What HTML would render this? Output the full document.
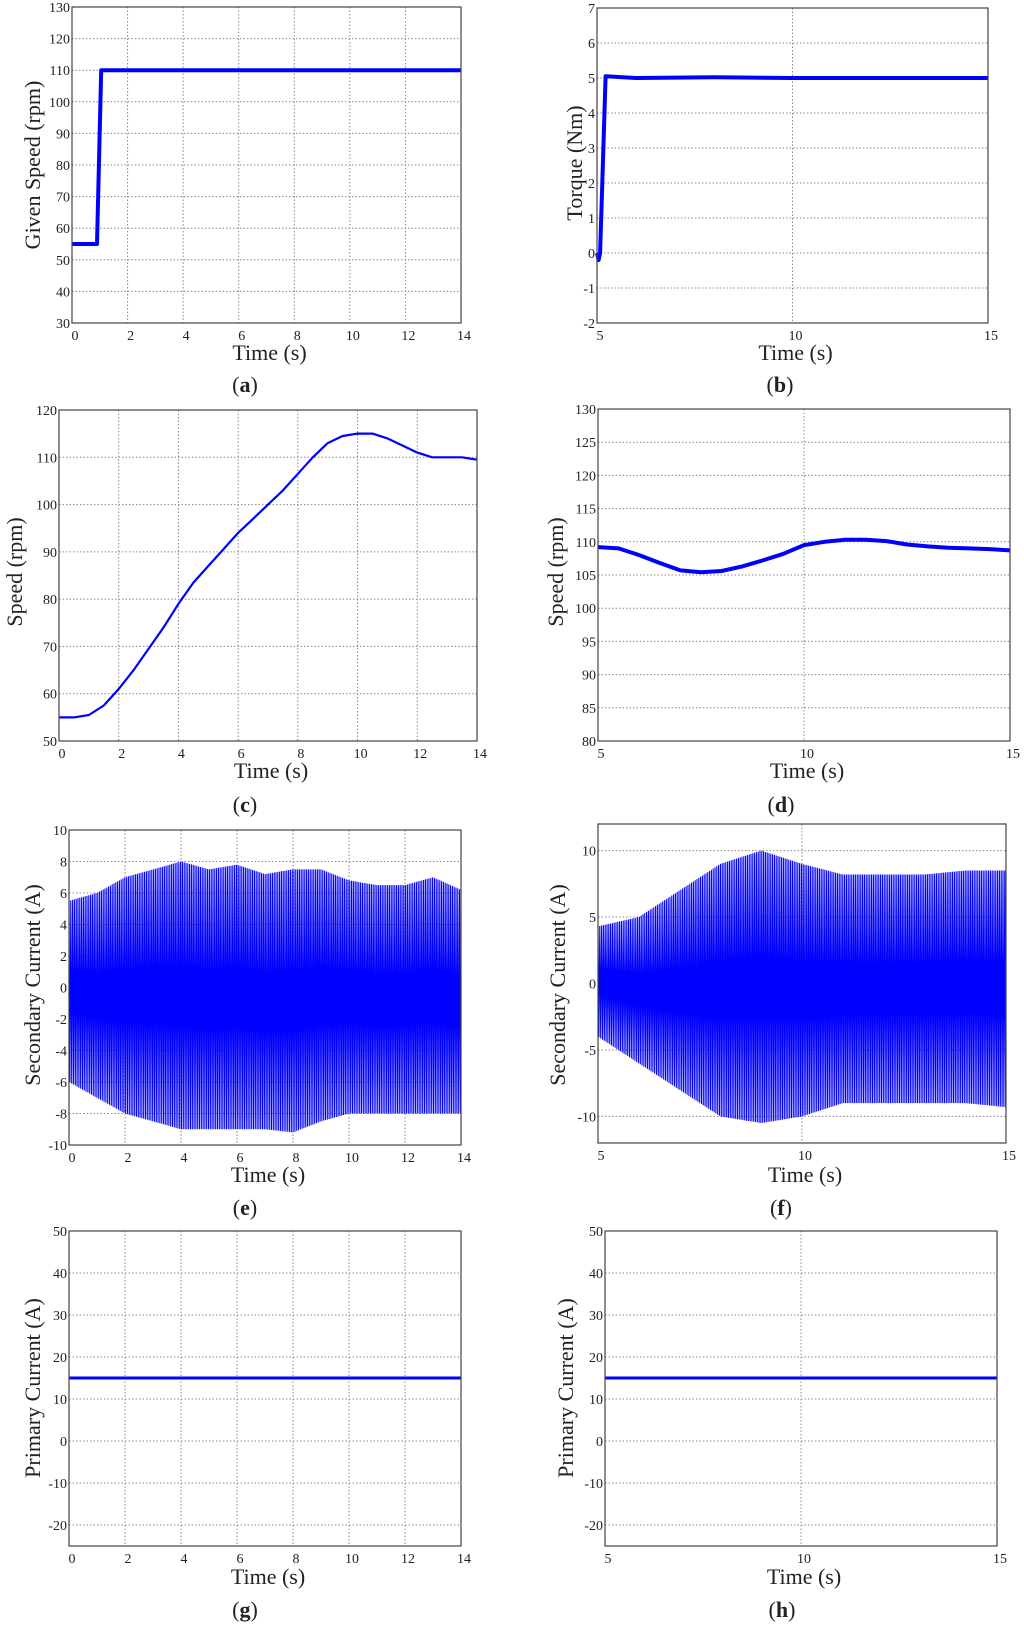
<!DOCTYPE html>
<html><head><meta charset="utf-8">
<style>
html,body{margin:0;padding:0;background:#fff;}
svg{display:block;}
text{font-family:"Liberation Serif",serif;fill:#222;}
</style></head>
<body>
<svg id="fig" width="1024" height="1627" viewBox="0 0 1024 1627" xmlns="http://www.w3.org/2000/svg"></svg>
<script>
// ---- data ----
const givenSpeedT = [0, 0.9, 1.05, 14];
const givenSpeedV = [55, 55, 110, 110];
const torqueT = [5, 5.04, 5.08, 5.22, 6, 8, 10, 12, 15];
const torqueV = [0, -0.2, 0, 5.05, 5.0, 5.02, 5.0, 5.0, 5.0];
const speedCT = [0,0.5,1,1.5,2,2.5,3,3.5,4,4.5,5,5.5,6,6.5,7,7.5,8,8.5,9,9.5,10,10.5,11,11.5,12,12.5,13,13.5,14];
const speedCV = [55,55,55.5,57.5,61,65,69.5,74,79,83.5,87,90.5,94,97,100,103,106.5,110,113,114.5,115,115,114,112.5,111,110,110,110,109.5];
const speedDT = [5,5.5,6,6.5,7,7.5,8,8.5,9,9.5,10,10.5,11,11.5,12,12.5,13,13.5,14,14.5,15];
const speedDV = [109.2,109,108,106.8,105.7,105.4,105.6,106.3,107.2,108.2,109.5,110,110.3,110.3,110.1,109.6,109.3,109.1,109,108.9,108.7];
const secET = [0,1,2,3,4,5,6,7,8,9,10,11,12,13,14];
const secEUpper = [5.5,6,7,7.5,8,7.5,7.8,7.2,7.5,7.5,6.8,6.5,6.5,7,6.2];
const secELower = [-6,-7,-8,-8.5,-9,-9,-9,-9,-9.2,-8.5,-8,-8,-8,-8,-8];
const secFT = [5,6,7,8,9,10,11,12,13,14,15];
const secFUpper = [4.3,5,7,9,10,9,8.2,8.2,8.2,8.5,8.5];
const secFLower = [-4,-6,-8,-10,-10.5,-10,-9,-9,-9,-9,-9.3];
const primGT = [0, 14];
const primGV = [15, 15];
const primHT = [5, 15];
const primHV = [15, 15];
const ticks0to14 = [0,2,4,6,8,10,12,14];
const ticks5to15 = [5,10,15];

const NS = "http://www.w3.org/2000/svg";
const svg = document.getElementById('fig');
function el(tag, attrs, parent){
  const e = document.createElementNS(NS, tag);
  for (const k in attrs) e.setAttribute(k, attrs[k]);
  (parent||svg).appendChild(e);
  return e;
}

function panel(p){
  const g = el('g', {});
  
  
  const sx = v => p.x0 + (v - p.xmin) / (p.xmax - p.xmin) * (p.x1 - p.x0);
  const sy = v => p.y1 - (v - p.ymin) / (p.ymax - p.ymin) * (p.y1 - p.y0);
  p.yticks.forEach(v => {
    const y = sy(v);
    if (v !== p.ymin && v !== p.ymax) {
      const l = el('line', {x1:p.x0, x2:p.x1, y1:y, y2:y, stroke:'#888', 'stroke-width':1, 'stroke-dasharray':'1.5,2'}, g);
      
      
    }
    const t = el('text', {x:p.x0 - 2, y:y + 5, 'text-anchor':'end', 'font-size':14}, g);
    t.textContent = v;
    
    
  });
  p.xticks.forEach(v => {
    const x = sx(v);
    if (v !== p.xmin && v !== p.xmax) {
      const l = el('line', {x1:x, x2:x, y1:p.y0, y2:p.y1, stroke:'#888', 'stroke-width':1, 'stroke-dasharray':'1.5,2'}, g);
      
      
    }
    const t = el('text', {x:x + 3, y:p.y1 + 17, 'text-anchor':'middle', 'font-size':14}, g);
    t.textContent = v;
    
    
  });
  if (p.t && p.v) {
    const pts = p.t.map((t, i) => sx(t).toFixed(1) + ',' + sy(p.v[i]).toFixed(1)).join(' ');
    const pl = el('polyline', {points:pts, fill:'none', stroke:'#0000ff', 'stroke-width':p.lw, 'stroke-linejoin':'round'}, g);
    
    
  }
  if (p.envT) {
    const interp = (arr, t) => {
      for (let i = 0; i < p.envT.length - 1; i++) {
        if (t <= p.envT[i+1]) {
          const f = (t - p.envT[i]) / (p.envT[i+1] - p.envT[i]);
          return arr[i] + f * (arr[i+1] - arr[i]);
        }
      }
      return arr[arr.length - 1];
    };
    let pts = [];
    const step = 0.9;
    let k = 0;
    for (let x = p.x0; x <= p.x1; x += step, k++) {
      const t = p.xmin + (x - p.x0) / (p.x1 - p.x0) * (p.xmax - p.xmin);
      const v = (k % 2 === 0) ? interp(p.up, t) : interp(p.lo, t);
      pts.push(x.toFixed(1) + ',' + sy(v).toFixed(1));
    }
    const pl = el('polyline', {points:pts.join(' '), fill:'none', stroke:'#0000ff', 'stroke-width':1.1}, g);
    
    
  }
  const r = el('rect', {x:p.x0, y:p.y0, width:p.x1 - p.x0, height:p.y1 - p.y0, fill:'none', stroke:'#444', 'stroke-width':1.2}, g);
  
  
  const xl = el('text', {x:(p.x0 + p.x1) / 2 + 3, y:p.xlY, 'text-anchor':'middle', 'font-size':22}, g);
  xl.textContent = 'Time (s)';
  
  
  const yl = el('text', {x:0, y:0, 'text-anchor':'middle', 'font-size':22, transform:'translate(' + p.ylX + ',' + p.ylY + ') rotate(-90)'}, g);
  yl.textContent = p.ylabel;
  
  
  const cap = el('text', {x:p.capX, y:p.capY, 'text-anchor':'middle', 'font-size':22}, g);
  cap.innerHTML = '(<tspan font-weight="bold">' + p.cap + '</tspan>)';
  
  
}

panel({name:'panel-a-given-speed', x0:72, x1:461, y0:7, y1:323, xmin:0, xmax:14, ymin:30, ymax:130,
  xticks:ticks0to14, yticks:[30,40,50,60,70,80,90,100,110,120,130], t:givenSpeedT, v:givenSpeedV, lw:4,
  ylabel:'Given Speed (rpm)', ylX:40, ylY:165, xlY:360, cap:'a', capX:245, capY:392});
panel({name:'panel-b-torque', x0:597, x1:988, y0:8, y1:323, xmin:5, xmax:15, ymin:-2, ymax:7,
  xticks:ticks5to15, yticks:[-2,-1,0,1,2,3,4,5,6,7], t:torqueT, v:torqueV, lw:4,
  ylabel:'Torque (Nm)', ylX:582, ylY:163, xlY:360, cap:'b', capX:780, capY:392});
panel({name:'panel-c-speed', x0:59, x1:477, y0:410, y1:741, xmin:0, xmax:14, ymin:50, ymax:120,
  xticks:ticks0to14, yticks:[50,60,70,80,90,100,110,120], t:speedCT, v:speedCV, lw:2.2,
  ylabel:'Speed (rpm)', ylX:22, ylY:572, xlY:778, cap:'c', capX:245, capY:812});
panel({name:'panel-d-speed', x0:598, x1:1010, y0:409, y1:741, xmin:5, xmax:15, ymin:80, ymax:130,
  xticks:ticks5to15, yticks:[80,85,90,95,100,105,110,115,120,125,130], t:speedDT, v:speedDV, lw:4,
  ylabel:'Speed (rpm)', ylX:563, ylY:572, xlY:778, cap:'d', capX:781, capY:812});
panel({name:'panel-e-secondary-current', x0:69, x1:461, y0:830, y1:1145, xmin:0, xmax:14, ymin:-10, ymax:10,
  xticks:ticks0to14, yticks:[-10,-8,-6,-4,-2,0,2,4,6,8,10], envT:secET, up:secEUpper, lo:secELower,
  ylabel:'Secondary Current (A)', ylX:40, ylY:985, xlY:1182, cap:'e', capX:245, capY:1215});
panel({name:'panel-f-secondary-current', x0:598, x1:1006, y0:824, y1:1143, xmin:5, xmax:15, ymin:-12, ymax:12,
  xticks:ticks5to15, yticks:[-10,-5,0,5,10], envT:secFT, up:secFUpper, lo:secFLower,
  ylabel:'Secondary Current (A)', ylX:565, ylY:985, xlY:1182, cap:'f', capX:781, capY:1215});
panel({name:'panel-g-primary-current', x0:69, x1:461, y0:1231, y1:1546, xmin:0, xmax:14, ymin:-25, ymax:50,
  xticks:ticks0to14, yticks:[-20,-10,0,10,20,30,40,50], t:primGT, v:primGV, lw:3,
  ylabel:'Primary Current (A)', ylX:40, ylY:1388, xlY:1584, cap:'g', capX:245, capY:1617});
panel({name:'panel-h-primary-current', x0:605, x1:997, y0:1231, y1:1546, xmin:5, xmax:15, ymin:-25, ymax:50,
  xticks:ticks5to15, yticks:[-20,-10,0,10,20,30,40,50], t:primHT, v:primHV, lw:3,
  ylabel:'Primary Current (A)', ylX:573, ylY:1388, xlY:1584, cap:'h', capX:782, capY:1617});
</script>
</body></html>
